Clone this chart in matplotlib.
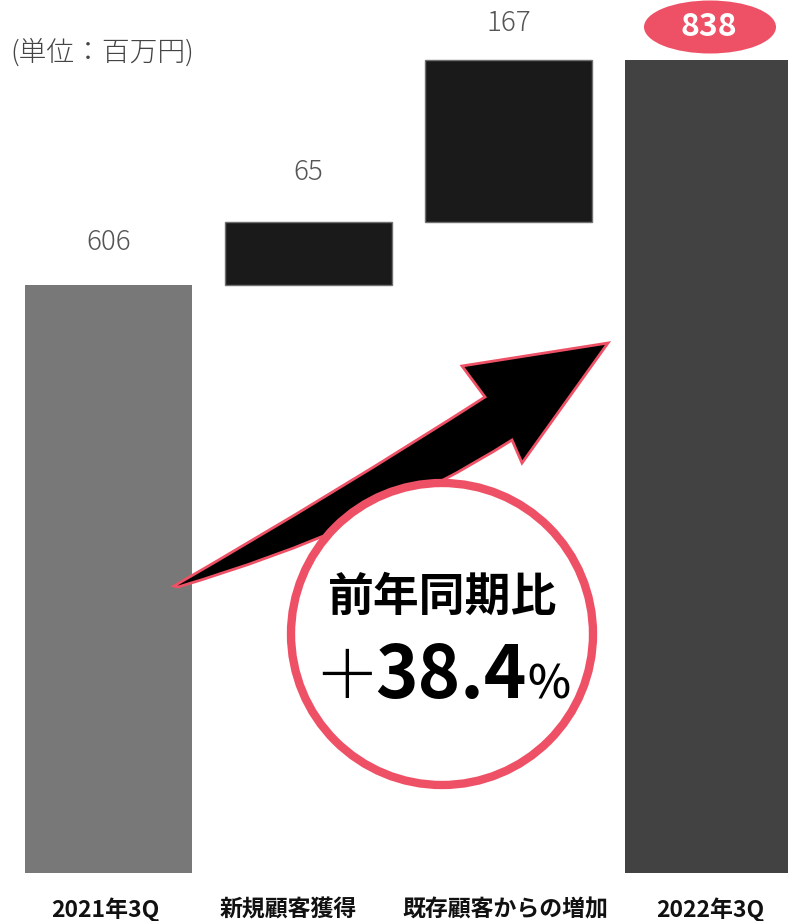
import numpy as np
import matplotlib
matplotlib.use('Agg')
import matplotlib.pyplot as plt
from matplotlib.path import Path
from matplotlib.patches import PathPatch, Ellipse

plt.rcParams['font.family'] = ['Noto Sans CJK JP', 'DejaVu Sans']

# データ
categories = ['2021年3Q', '新規顧客獲得', '既存顧客からの増加', '2022年3Q']
start_value = 606
increments = [65, 167]
end_value = 838

W, H = 788, 921
PINK = '#ee5166'


def P(x, y):
    # 画像ピクセル(左上原点) -> axes 座標
    return (x / W, (873 - y) / 873)


heights = [start_value] + increments + [end_value]
bottoms = [0, start_value, start_value + increments[0], 0]
colors = ['#787878', '#1a1a1a', '#1a1a1a', '#424242']
edges = ['none', '#707070', '#707070', 'none']
label_pad = [43, 50, 37, 33]
cat_shift = [-3, -20, -3, 2]

fig = plt.figure(figsize=(W / 100, H / 100), dpi=100)
ax = fig.add_axes([0, 48 / H, 1, 873 / H])
x = np.arange(len(categories))
ax.bar(x, heights, bottom=bottoms, width=0.835, color=colors, edgecolor=edges, linewidth=1)
ax.set_xlim(-0.5425, 3.3975)
ax.set_ylim(0, 900)
ax.axis('off')

# 項目ラベル
for i, c in enumerate(categories):
    ax.annotate(c, (x[i], 0), xytext=(cat_shift[i] * 0.72, -37 * 0.72),
                textcoords='offset points', ha='center', va='center', fontsize=16.5,
                fontweight='bold', color='#111111', annotation_clip=False)

# 数値ラベル
for i in range(3):
    ax.annotate(str(heights[i]), (x[i], bottoms[i] + heights[i]), xytext=(0, label_pad[i] * 0.72),
                textcoords='offset points', ha='center', va='center', fontsize=20,
                fontweight='light', color='#555555')
ax.add_patch(Ellipse(P(710, 27), 132 / W, 53 / 873, transform=ax.transAxes,
                     facecolor=PINK, edgecolor='none', clip_on=False))
ax.annotate(str(end_value), (x[3], end_value), xytext=(0, label_pad[3] * 0.72),
            textcoords='offset points', ha='center', va='center', fontsize=23,
            fontweight='bold', color='white', annotation_clip=False)

ax.text(*P(10, 52), '(単位：百万円)', transform=ax.transAxes, ha='left', va='center',
        fontsize=20, fontweight='light', color='#444444')

# 矢印
pts = [(174, 586), (340, 490), (485, 397), (462, 366), (608, 343), (522, 463),
       (512, 440), (370, 530), (178, 587), (174, 586)]
codes = [Path.MOVETO, Path.CURVE3, Path.CURVE3, Path.LINETO, Path.LINETO, Path.LINETO,
         Path.LINETO, Path.CURVE3, Path.CURVE3, Path.CLOSEPOLY]
arrow = Path([P(*p) for p in pts], codes)
ax.add_patch(PathPatch(arrow, transform=ax.transAxes, facecolor='black', edgecolor=PINK,
                       linewidth=2, joinstyle='miter', zorder=3))

# 円
ax.add_patch(Ellipse(P(442, 634), 302 / W, 302 / 873, transform=ax.transAxes,
                     facecolor='white', edgecolor=PINK, linewidth=6, zorder=4))
ax.text(*P(443, 598), '前年同期比', transform=ax.transAxes, ha='center', va='center',
        fontsize=33, fontweight='bold', color='black', zorder=5)
ax.text(*P(347, 698), '＋', transform=ax.transAxes, ha='center', va='baseline',
        fontsize=48, fontweight='light', color='black', zorder=5)
ax.text(*P(375, 698), '38.4', transform=ax.transAxes, ha='left', va='baseline',
        fontsize=52, fontweight='bold', color='black', zorder=5)
ax.text(*P(527, 698), '%', transform=ax.transAxes, ha='left', va='baseline',
        fontsize=33, fontweight='medium', color='black', zorder=5)

fig.savefig('out.png', dpi=100, facecolor='white')
